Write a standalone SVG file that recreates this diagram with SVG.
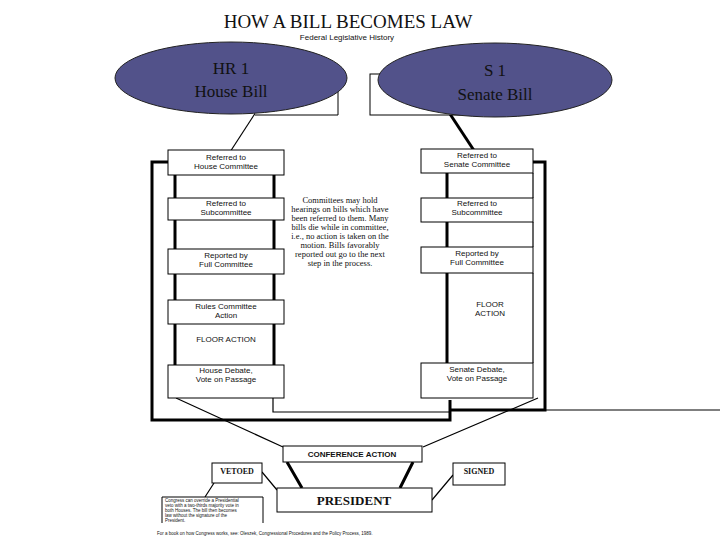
<svg xmlns="http://www.w3.org/2000/svg" width="720" height="540" viewBox="0 0 720 540">
<style>
.b{fill:#fff;stroke:#000;stroke-width:1}
.t{font-family:"Liberation Sans",Arial,sans-serif;font-size:8px;text-anchor:middle;fill:#111}
.l{font-family:"Liberation Sans",Arial,sans-serif;font-size:4.5px;text-anchor:start;fill:#111}
.s{font-family:"Liberation Serif","Times New Roman",serif;text-anchor:middle;fill:#111}
.th{stroke:#000;stroke-width:3;fill:none}
.tn{stroke:#000;stroke-width:1.2;fill:none}
.el{fill:#52528a;stroke:#222;stroke-width:1}
.et{font-family:"Liberation Serif","Times New Roman",serif;font-size:17px;text-anchor:middle;fill:#111}
</style>
<rect width="720" height="540" fill="#fff"/>
<text class="s" x="348" y="28" font-size="19">HOW A BILL BECOMES LAW</text>
<text class="t" x="347" y="40" font-size="11">Federal Legislative History</text>
<g id="connectors">
<path class="tn" d="M256,112 L230,152"/>
<path class="th" d="M450,114 L475,152"/>
<path class="th" d="M168,162 H152 V420 H450 V400"/>
<path class="th" d="M175,175 V365 M274,175 V198 M274,220 V249 M274,274 V300 M274,324 V365"/>
<path class="tn" d="M273,398 V412 H450"/>
<path class="th" d="M447,173 V198 M447,222 V247 M447,273 V363"/>
<path class="tn" d="M533,173 V198 M533,222 V247 M533,273 V363"/>
<path class="th" d="M533,162 H545 V410 H450"/>
<path class="tn" d="M545,410 H720"/>
<path class="tn" d="M176,398 L283,447 M423,447 L538,398"/>
<path class="th" d="M287,462 L302,488 M413,462 L400,488"/>
<path class="tn" d="M262,472 L277,490 M453,475 L432,500 M214,483 L205,497"/>
</g>
<g id="intro-house"><path class="b" d="M255,75 H338 V115 H255"/></g>
<g id="intro-senate"><rect class="b" x="370" y="74" width="90" height="41"/></g>
<g id="hr1"><ellipse class="el" cx="231" cy="78" rx="116" ry="36"/><text class="et" x="231" y="74">HR 1</text><text class="et" x="231" y="97">House Bill</text></g>
<g id="s1"><ellipse class="el" cx="495" cy="80" rx="117" ry="37"/><text class="et" x="495" y="76">S 1</text><text class="et" x="495" y="100">Senate Bill</text></g>
<g id="h1"><rect class="b" x="168" y="150" width="116" height="25"/><text class="t" x="226" y="160">Referred to</text><text class="t" x="226" y="169">House Committee</text></g>
<g id="h2"><rect class="b" x="168" y="198" width="116" height="22"/><text class="t" x="226" y="206">Referred to</text><text class="t" x="226" y="215">Subcommittee</text></g>
<g id="h3"><rect class="b" x="168" y="249" width="116" height="25"/><text class="t" x="226" y="258">Reported by</text><text class="t" x="226" y="267">Full Committee</text></g>
<g id="h4"><rect class="b" x="168" y="300" width="116" height="24"/><text class="t" x="226" y="309">Rules Committee</text><text class="t" x="226" y="318">Action</text></g>
<g id="h5"><text class="t" x="226" y="342">FLOOR ACTION</text></g>
<g id="h6"><rect class="b" x="168" y="365" width="116" height="33"/><text class="t" x="226" y="373">House Debate,</text><text class="t" x="226" y="382">Vote on Passage</text></g>
<g id="note"><text class="s" font-size="8.5" x="340" y="203">Committees may hold</text><text class="s" font-size="8.5" x="340" y="212">hearings on bills which have</text><text class="s" font-size="8.5" x="340" y="221">been referred to them. Many</text><text class="s" font-size="8.5" x="340" y="230">bills die while in committee,</text><text class="s" font-size="8.5" x="340" y="239">i.e., no action is taken on the</text><text class="s" font-size="8.5" x="340" y="248">motion. Bills favorably</text><text class="s" font-size="8.5" x="340" y="257">reported out go to the next</text><text class="s" font-size="8.5" x="340" y="266">step in the process.</text></g>
<g id="s1b"><rect class="b" x="421" y="149" width="112" height="24"/><text class="t" x="477" y="158">Referred to</text><text class="t" x="477" y="167">Senate Committee</text></g>
<g id="s2"><rect class="b" x="421" y="198" width="112" height="24"/><text class="t" x="477" y="206">Referred to</text><text class="t" x="477" y="215">Subcommittee</text></g>
<g id="s3"><rect class="b" x="421" y="247" width="112" height="26"/><text class="t" x="477" y="256">Reported by</text><text class="t" x="477" y="265">Full Committee</text></g>
<g id="s4"><text class="t" x="490" y="307">FLOOR</text><text class="t" x="490" y="316">ACTION</text></g>
<g id="s5"><rect class="b" x="421" y="363" width="112" height="35"/><text class="t" x="477" y="372">Senate Debate,</text><text class="t" x="477" y="381">Vote on Passage</text></g>
<g id="conf"><rect class="b" x="283" y="446" width="139" height="16" stroke-width="3"/><text class="t" x="352" y="457" font-weight="bold">CONFERENCE ACTION</text></g>
<g id="vetoed"><rect class="b" x="212" y="463" width="50" height="20"/><text class="s" x="237" y="474" font-size="8" font-weight="bold">VETOED</text></g>
<g id="signed"><rect class="b" x="453" y="463" width="52" height="22"/><text class="s" x="479" y="474" font-size="8" font-weight="bold">SIGNED</text></g>
<g id="president"><rect class="b" x="277" y="488" width="155" height="24" stroke-width="3.5"/><text class="s" x="354" y="505" font-size="13" font-weight="bold">PRESIDENT</text></g>
<g id="override"><path class="b" d="M162,523 V497 H263 V523"/><text class="l" x="165" y="502">Congress can override a Presidential</text><text class="l" x="165" y="507">veto with a two-thirds majority vote in</text><text class="l" x="165" y="512">both Houses. The bill then becomes</text><text class="l" x="165" y="517">law without the signature of the</text><text class="l" x="165" y="522">President.</text></g>
<text class="l" font-size="4.8" x="157" y="535">For a book on how Congress works, see: Oleszek, Congressional Procedures and the Policy Process, 1989.</text>
</svg>
